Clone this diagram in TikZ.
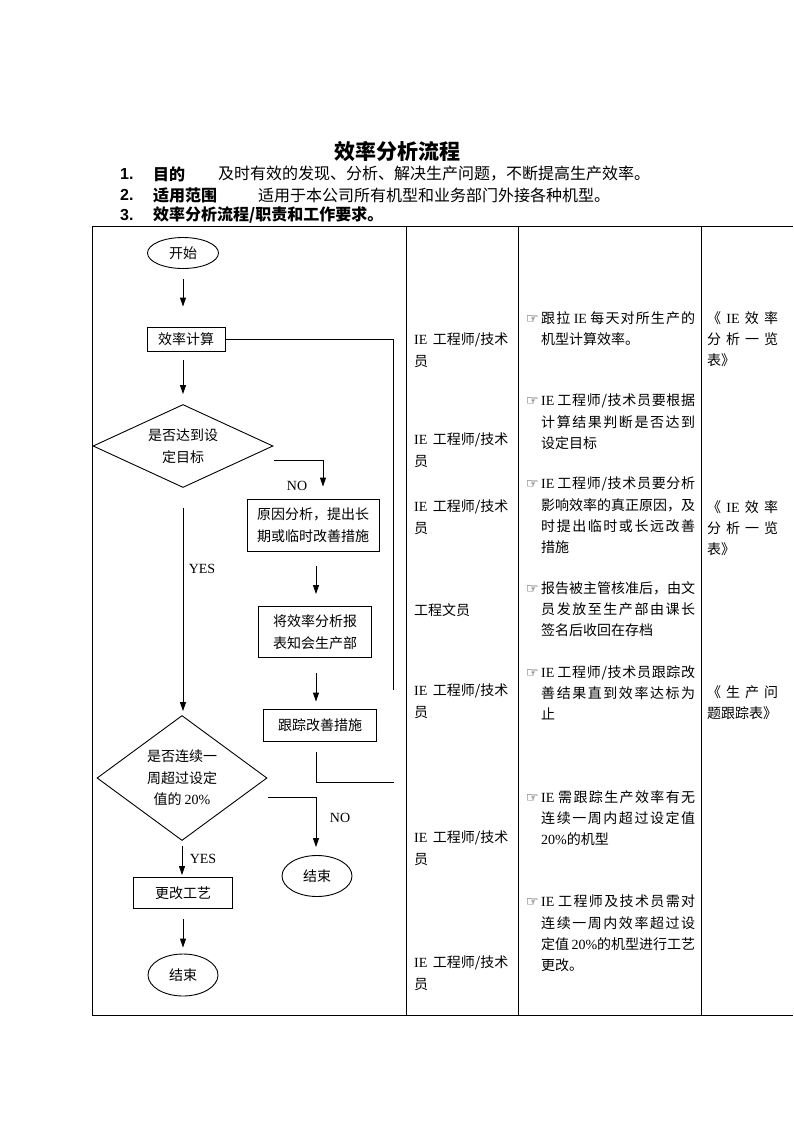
\documentclass[tikz,border=0pt]{standalone}
\usepackage{fontspec}
\setmainfont{Liberation Serif}
\newfontfamily\zh{Noto Sans CJK SC}
\newfontfamily\arialf{Liberation Sans}
\newfontfamily\symf{DejaVu Sans}
\usetikzlibrary{arrows.meta,shapes.geometric}
\newcommand\en[1]{{\rmfamily #1}}
\newcommand\hand{\makebox[14pt][l]{\hspace*{-1pt}\symf\fontsize{14}{14}\selectfont ☞}}
\makeatletter
\newcommand\jl[2]{\hbox to #1{\def\jl@sep{}\@tfor\jl@t:=#2\do{\jl@sep\jl@t\def\jl@sep{\hfil}}}}
\makeatother
\newcommand\tf{\zh\fontsize{14}{21.3}\selectfont}
\begin{document}
\begin{tikzpicture}[x=1pt,y=-1pt,
  ln/.style={line width=0.9pt},
  arr/.style={ln,-{Triangle[length=9pt,width=6pt]}},
  term/.style={ellipse,draw,ln,minimum width=71pt,minimum height=31pt,inner sep=0pt,font=\tf},
  proc/.style={rectangle,draw,ln,inner sep=0pt,align=center,font=\zh\fontsize{14}{22}\selectfont},
  dec/.style={diamond,draw,ln,inner sep=0pt,align=center,font=\zh\fontsize{14}{21.5}\selectfont},
  lab/.style={inner sep=0pt,font=\rmfamily\fontsize{14}{14}\selectfont},
  cell/.style={anchor=north west,align=left,inner sep=0pt,font=\tf},
  num/.style={anchor=west,inner sep=0pt,font=\arialf\bfseries\fontsize{16}{16}\selectfont},
  hdb/.style={anchor=west,inner sep=0pt,font=\zh\bfseries\fontsize{16}{16}\selectfont},
  hdt/.style={anchor=west,inner sep=0pt,font=\zh\fontsize{16}{16}\selectfont}]
\useasboundingbox (0,0) rectangle (793,1122);
% heading
\node[inner sep=0pt,font=\zh\bfseries\fontsize{21}{21}\selectfont] (title) at (397,152) {效率分析流程};
\node[num] (n1) at (120,174) {1.};
\node[hdb] (k1) at (153,174) {目的};
\node[hdt] (t1) at (218,174) {及时有效的发现、分析、解决生产问题，不断提高生产效率。};
\node[num] (n2) at (120,195) {2.};
\node[hdb] (k2) at (153,195) {适用范围};
\node[hdt] (t2) at (258,195) {适用于本公司所有机型和业务部门外接各种机型。};
\node[num] (n3) at (120,215) {3.};
\node[hdb] (k3) at (153,215) {效率分析流程/职责和工作要求。};
% table
\draw[ln] (793,226) -- (92,226) -- (92,1015) -- (793,1015);
\draw[ln] (406,226) -- (406,1015);
\draw[ln] (518,226) -- (518,1015);
\draw[ln] (701,226) -- (701,1015);
% flowchart
\node[term] (start) at (183,253) {开始};
\node[proc,minimum width=78pt,minimum height=24pt] (calc) at (186,339) {效率计算};
\node[dec,aspect=2.17,minimum width=180pt,minimum height=83pt] (dec1) at (183,446) {是否达到设\\定目标};
\node[proc,minimum width=132pt,minimum height=52pt] (cause) at (313,525) {原因分析，提出长\\期或临时改善措施};
\node[proc,minimum width=113pt,minimum height=51pt] (report) at (315,632) {将效率分析报\\表知会生产部};
\node[proc,minimum width=113pt,minimum height=32pt] (track) at (320,725) {跟踪改善措施};
\node[dec,aspect=1.36,minimum width=170pt,minimum height=125pt] (dec2) at (182,778) {是否连续一\\周超过设定\\值的 \en{20\%}};
\node[term,minimum height=41pt,minimum width=70pt] (end2) at (317,876) {结束};
\node[proc,minimum width=99pt,minimum height=31pt] (change) at (183,893) {更改工艺};
\node[term,minimum height=42pt,minimum width=70pt] (end1) at (183,975) {结束};
\coordinate (f1) at (393,690);
\coordinate (f2) at (394,782);
% connectors
\draw[arr,shorten <=10pt,shorten >=20pt] (start.south) -- (start.south |- calc.north);
\draw[arr,shorten <=9pt,shorten >=10pt] (calc.south -| dec1.north) -- (dec1.north);
\draw[ln] (calc.east) -| (f1);
\draw[arr] ([xshift=1pt,yshift=-14pt]dec1.east) -| ([xshift=10pt,yshift=12pt]cause.north);
\draw[arr,shorten <=15pt,shorten >=12pt] ([xshift=3pt]cause.south) -- ([xshift=3pt]cause.south |- report.north);
\draw[arr,shorten <=15pt,shorten >=7pt] ([xshift=1pt]report.south) -- ([xshift=1pt]report.south |- track.north);
\draw[ln] ([xshift=-4pt,yshift=-11pt]track.south) |- (f2);
\draw[arr,shorten <=20pt,shorten >=4pt] (dec1.south) -- (dec1.south |- dec2.north);
\draw[arr,shorten >=8pt] ([xshift=1pt,yshift=-19pt]dec2.east) -| ([xshift=-1pt]end2.north);
\draw[arr,shorten <=5pt,shorten >=2pt] (dec2.south) -- (dec2.south |- change.north);
\draw[arr,shorten <=10pt,shorten >=6pt] (change.south) -- (change.south |- end1.north);
\node[lab] (yes1) at (202,569) {YES};
\node[lab] (no1) at (297,486) {NO};
\node[lab] (no2) at (340,818) {NO};
\node[lab] (yes2) at (203,859) {YES};
% column 2
\node[cell] (r1) at (414,333) {\en{IE\,} 工程师/技术\\员};
\node[cell] (r2) at (414,433) {\en{IE\,} 工程师/技术\\员};
\node[cell] (r3) at (414,500) {\en{IE\,} 工程师/技术\\员};
\node[cell] (r4) at (414,603) {工程文员};
\node[cell] (r5) at (414,684) {\en{IE\,} 工程师/技术\\员};
\node[cell] (r6) at (414,831) {\en{IE\,} 工程师/技术\\员};
\node[cell] (r7) at (414,956) {\en{IE\,} 工程师/技术\\员};
% column 3
\node[cell] (d1) at (527,311) {\hand\jl{154pt}{跟拉{\en{\,IE\,}}每天对所生产的}\\\hspace*{14pt}机型计算效率。};
\node[cell] (d2) at (527,394) {\hand\jl{154pt}{{\en{IE\,}}工程师/技术员要根据}\\\hspace*{14pt}\jl{154pt}{计算结果判断是否达到}\\\hspace*{14pt}设定目标};
\node[cell] (d3) at (527,477) {\hand\jl{154pt}{{\en{IE\,}}工程师/技术员要分析}\\\hspace*{14pt}\jl{154pt}{影响效率的真正原因，及}\\\hspace*{14pt}\jl{154pt}{时提出临时或长远改善}\\\hspace*{14pt}措施};
\node[cell] (d4) at (527,581) {\hand\jl{154pt}{报告被主管核准后，由文}\\\hspace*{14pt}\jl{154pt}{员发放至生产部由课长}\\\hspace*{14pt}签名后收回在存档};
\node[cell] (d5) at (527,665) {\hand\jl{154pt}{{\en{IE\,}}工程师/技术员跟踪改}\\\hspace*{14pt}\jl{154pt}{善结果直到效率达标为}\\\hspace*{14pt}止};
\node[cell] (d6) at (527,790) {\hand\jl{154pt}{{\en{IE\,}}需跟踪生产效率有无}\\\hspace*{14pt}\jl{154pt}{连续一周内超过设定值}\\\hspace*{14pt}\en{20\%}的机型};
\node[cell] (d7) at (527,895) {\hand\jl{154pt}{{\en{IE\,}}工程师及技术员需对}\\\hspace*{14pt}\jl{154pt}{连续一周内效率超过设}\\\hspace*{14pt}\jl{154pt}{定值{\en{\,20\%}}的机型进行工艺}\\\hspace*{14pt}更改。};
% column 4
\node[cell] (m1) at (707,311) {\jl{71pt}{《{\en{IE}}效率}\\\jl{71pt}{分析一览}\\表》};
\node[cell] (m2) at (707,500) {\jl{71pt}{《{\en{IE}}效率}\\\jl{71pt}{分析一览}\\表》};
\node[cell] (m3) at (707,685) {\jl{71pt}{《生产问}\\题跟踪表》};
\end{tikzpicture}
\end{document}
